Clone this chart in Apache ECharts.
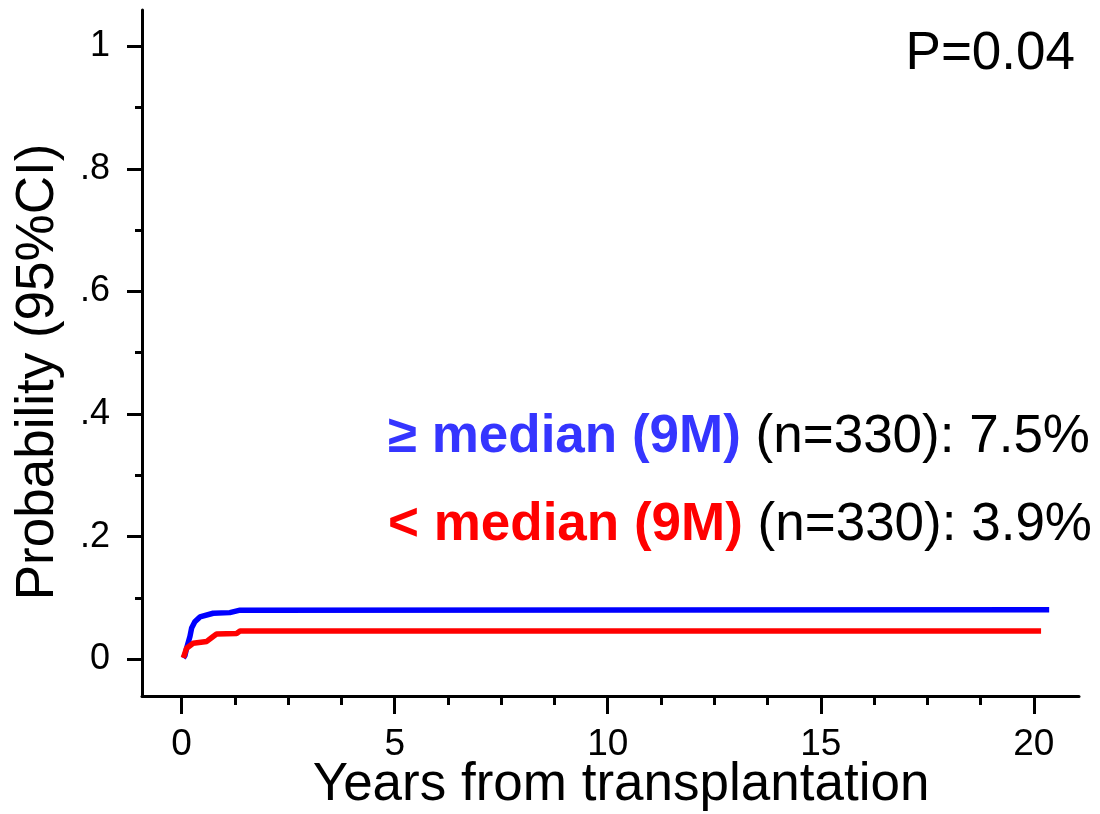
<!DOCTYPE html>
<html>
<head>
<meta charset="utf-8">
<script src="https://cdn.jsdelivr.net/npm/echarts@6/dist/echarts.min.js"></script>
<style>
  html, body { margin: 0; padding: 0; background: #fff; }
  #chart { width: 1100px; height: 814px; }
</style>
</head>
<body>
<div id="chart"></div>
<script>
// ---- data ----
const highX = [0.04, 0.077, 0.117, 0.195, 0.235, 0.31, 0.43, 0.74, 1.13, 1.37, 20.36];
const highY = [0.002, 0.006, 0.018, 0.037, 0.051, 0.061, 0.069, 0.075, 0.076, 0.080, 0.0805];
const lowX  = [0.04, 0.117, 0.27, 0.59, 0.74, 0.82, 1.29, 1.37, 20.17];
const lowY  = [0.002, 0.018, 0.026, 0.029, 0.037, 0.041, 0.042, 0.046, 0.046];
const xMajorTicks = [0, 5, 10, 15, 20];
const xMinorTicks = [1.25, 2.5, 3.75, 6.25, 7.5, 8.75, 11.25, 12.5, 13.75, 16.25, 17.5, 18.75];
const yMajorTicks = [0, 0.2, 0.4, 0.6, 0.8, 1];
const yMinorTicks = [0.1, 0.3, 0.5, 0.7, 0.9];
const yTickLabels = ['0', '.2', '.4', '.6', '.8', '1'];
const xTitle = 'Years from transplantation';
const yTitle = 'Probability (95%CI)';
const pText = 'P=0.04';
const groupHigh = { label: '≥ median (9M)', info: '(n=330): 7.5%' };
const groupLow  = { label: '< median (9M)', info: '(n=330): 3.9%' };

const FONT = '"Liberation Sans", Arial, Helvetica, sans-serif';
const X_MIN = -0.93, X_MAX = 21.06, Y_MIN = -0.06, Y_MAX = 1.059;

const chart = echarts.init(document.getElementById('chart'), null, { renderer: 'canvas' });

const pairs = (xs, ys) => xs.map((x, i) => [x, ys[i]]);

const baseX = {
  type: 'value', min: X_MIN, max: X_MAX, position: 'bottom',
  splitLine: { show: false }
};
const baseY = {
  type: 'value', min: Y_MIN, max: Y_MAX, position: 'left',
  splitLine: { show: false }
};

chart.setOption({
  animation: false,
  backgroundColor: '#ffffff',
  grid: { left: 142, right: 21, top: 10, bottom: 118, containLabel: false },
  xAxis: [
    Object.assign({}, baseX, {
      axisLine: { show: true, onZero: false, lineStyle: { color: '#000', width: 3 } },
      axisTick: { show: true, customValues: xMajorTicks, length: 18, lineStyle: { color: '#000', width: 3 } },
      axisLabel: { show: true, customValues: xMajorTicks, margin: 30, fontSize: 37,
        fontFamily: FONT, color: '#000' }
    }),
    Object.assign({}, baseX, {
      axisLine: { show: false, onZero: false },
      axisTick: { show: true, customValues: xMinorTicks, length: 9, lineStyle: { color: '#000', width: 3 } },
      axisLabel: { show: false }
    })
  ],
  yAxis: [
    Object.assign({}, baseY, {
      axisLine: { show: true, onZero: false, lineStyle: { color: '#000', width: 3 } },
      axisTick: { show: true, customValues: yMajorTicks, length: 15, lineStyle: { color: '#000', width: 3 } },
      axisLabel: { show: true, customValues: yMajorTicks, margin: 32, fontSize: 36,
        fontFamily: FONT, color: '#000',
        formatter: v => { const i = yMajorTicks.findIndex(t => Math.abs(t - v) < 1e-6); return i >= 0 ? yTickLabels[i] : ''; } }
    }),
    Object.assign({}, baseY, {
      axisLine: { show: false, onZero: false },
      axisTick: { show: true, customValues: yMinorTicks, length: 7, lineStyle: { color: '#000', width: 3 } },
      axisLabel: { show: false }
    })
  ],
  series: [
    {
      type: 'line', name: groupHigh.label, xAxisIndex: 0, yAxisIndex: 0,
      data: pairs(highX, highY), showSymbol: false, symbol: 'none',
      lineStyle: { color: '#0000ff', width: 5.5 }, z: 3
    },
    {
      type: 'line', name: groupLow.label, xAxisIndex: 0, yAxisIndex: 0,
      data: pairs(lowX, lowY), showSymbol: false, symbol: 'none',
      lineStyle: { color: '#ff0000', width: 5.5 }, z: 3
    }
  ],
  graphic: [
    {
      type: 'text', x: 621, y: 785,
      style: { text: xTitle, font: '53px ' + FONT, fill: '#000', align: 'center', verticalAlign: 'middle' }
    },
    {
      type: 'text', x: 38, y: 372, rotation: Math.PI / 2,
      style: { text: yTitle, font: '53px ' + FONT, fill: '#000', align: 'center', verticalAlign: 'middle' }
    },
    {
      type: 'text', x: 1075, y: 54,
      style: { text: pText, font: '53px ' + FONT, fill: '#000', align: 'right', verticalAlign: 'middle' }
    },
    {
      type: 'text', x: 1090, y: 437,
      style: {
        text: '{c|' + groupHigh.label + '}{k| ' + groupHigh.info + '}',
        align: 'right', verticalAlign: 'middle',
        rich: {
          c: { font: 'bold 53px ' + FONT, fill: '#3535ff' },
          k: { font: '53px ' + FONT, fill: '#000' }
        }
      }
    },
    {
      type: 'text', x: 1092, y: 525,
      style: {
        text: '{c|' + groupLow.label + '}{k| ' + groupLow.info + '}',
        align: 'right', verticalAlign: 'middle',
        rich: {
          c: { font: 'bold 53px ' + FONT, fill: '#ff0000' },
          k: { font: '53px ' + FONT, fill: '#000' }
        }
      }
    }
  ]
});
</script>
</body>
</html>
